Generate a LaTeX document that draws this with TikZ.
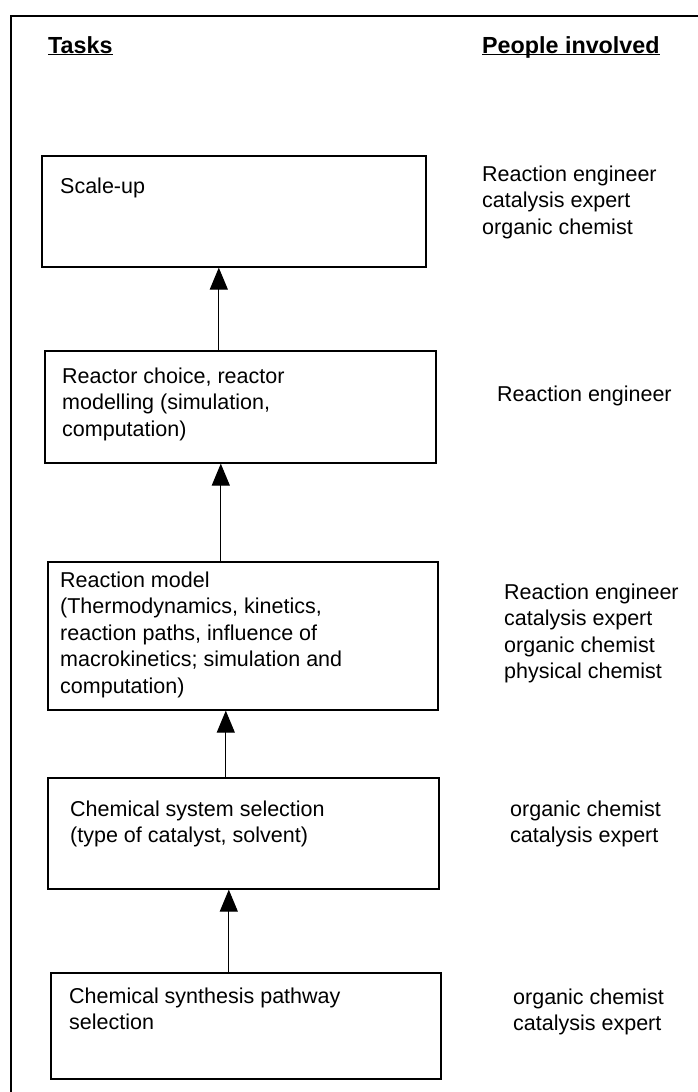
\documentclass[tikz,border=0pt]{standalone}
\usepackage{fontspec}
\setmainfont{Liberation Sans}
\usetikzlibrary{arrows.meta,calc}

\begin{document}
\begin{tikzpicture}[x=1pt,y=-1pt,
    taskbox/.style={draw,line width=1.6pt,anchor=north west,inner sep=0pt},
    boxtext/.style={anchor=north west,inner sep=0pt,align=left,
      font=\fontsize{21.5}{26.5}\selectfont,execute at begin node=\strut},
    header/.style={anchor=base west,inner sep=0pt,font=\fontsize{23.3}{28}\selectfont\bfseries},
    flow/.style={line width=1.2pt,-{Triangle[length=22pt,width=18pt]}}]
    \useasboundingbox (0,0) rectangle (698,1092);
    \draw [line width=1.2pt] (698,16) -- (11,16) -- (11,1092);

    \node [header] (tasks) at (48,53) {\underline{\smash{Tasks}}};
    \node [header] (people) at (482,53) {\underline{\smash{People involved}}};

    \node [taskbox,minimum width=384pt,minimum height=111pt] (scaleup) at (41,155) {};
    \node [taskbox,minimum width=391pt,minimum height=112pt] (reactor) at (44,350) {};
    \node [taskbox,minimum width=390pt,minimum height=148pt] (model) at (47,561) {};
    \node [taskbox,minimum width=391pt,minimum height=111pt] (system) at (47,777) {};
    \node [taskbox,minimum width=390pt,minimum height=106pt] (pathway) at (50,972) {};

    \node [boxtext] (scaleuptext) at ($(scaleup.north west)+(19,19.5)$) {Scale-up};
    \node [boxtext] (reactortext) at ($(reactor.north west)+(18,17.5)$) {Reactor choice, reactor\\modelling (simulation,\\computation)};
    \node [boxtext] (modeltext) at ($(model.north west)+(13,10.5)$) {Reaction model\\(Thermodynamics, kinetics,\\reaction paths, influence of\\macrokinetics; simulation and\\computation)};
    \node [boxtext] (systemtext) at ($(system.north west)+(23,23.5)$) {Chemical system selection\\(type of catalyst, solvent)};
    \node [boxtext] (pathwaytext) at ($(pathway.north west)+(19,15.5)$) {Chemical synthesis pathway\\selection};

    \node [boxtext] (scaleupwho) at (482,165.5) {Reaction engineer\\catalysis expert\\organic chemist};
    \node [boxtext] (reactorwho) at (497,382.5) {Reaction engineer};
    \node [boxtext] (modelwho) at (504,583.5) {Reaction engineer\\catalysis expert\\organic chemist\\physical chemist};
    \node [boxtext] (systemwho) at (510,800.5) {organic chemist\\catalysis expert};
    \node [boxtext] (pathwaywho) at (513,988.5) {organic chemist\\catalysis expert};

    \draw [flow] ([xshift=-21.5pt]reactor.north) -- ([xshift=-21.5pt]reactor.north |- scaleup.south);
    \draw [flow] ([xshift=-22pt]model.north) -- ([xshift=-22pt]model.north |- reactor.south);
    \draw [flow] ([xshift=-17.5pt]system.north) -- ([xshift=-17.5pt]system.north |- model.south);
    \draw [flow] ([xshift=-17pt]pathway.north) -- ([xshift=-17pt]pathway.north |- system.south);
\end{tikzpicture}
\end{document}
